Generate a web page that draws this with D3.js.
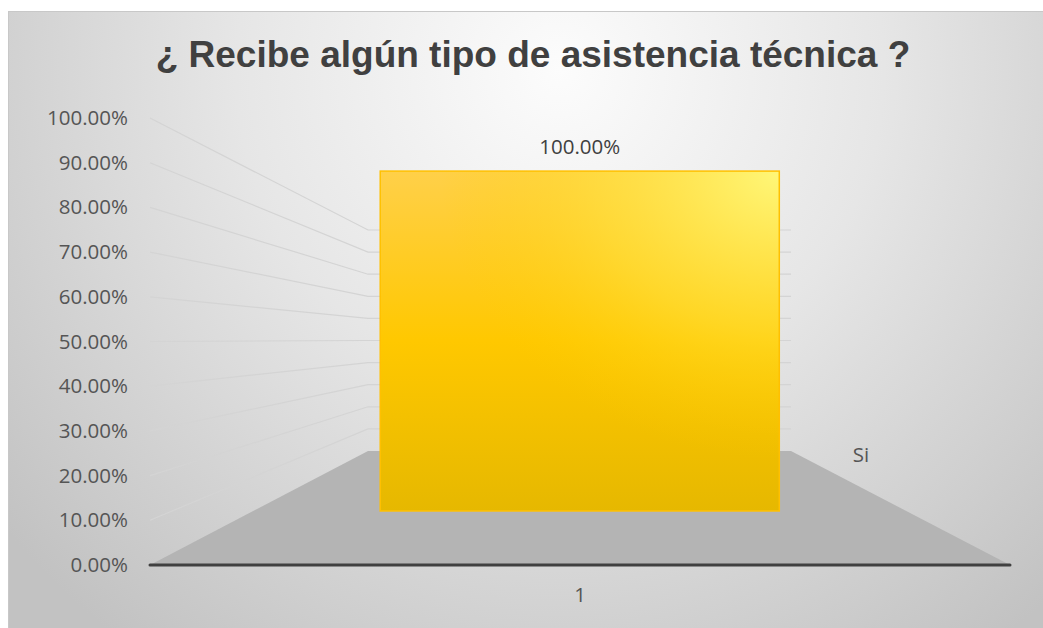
<!DOCTYPE html>
<html>
<head>
<meta charset="utf-8">
<script src="https://cdn.jsdelivr.net/npm/d3@7"></script>
<style>
  html, body { margin: 0; padding: 0; background: #fff; }
  svg { display: block; }
</style>
</head>
<body>
<div id="chart"></div>
<script>
const title = '¿ Recibe algún tipo de asistencia técnica ?';
const categories = ['1'];
const seriesName = 'Si';
const values = [1.0];
const yTicks = [0, 0.1, 0.2, 0.3, 0.4, 0.5, 0.6, 0.7, 0.8, 0.9, 1.0];

const width = 1043;
const height = 628;
const fmt = d3.format('.2%');
const labelFont = '"Open Sans", sans-serif';

const svg = d3.select('#chart')
  .append('svg')
  .attr('width', width)
  .attr('height', height);

const defs = svg.append('defs');

const bg = defs.append('radialGradient')
  .attr('id', 'bg')
  .attr('gradientUnits', 'userSpaceOnUse')
  .attr('cx', 560).attr('cy', 70).attr('r', 720);
bg.append('stop').attr('offset', 0).attr('stop-color', '#fcfcfc');
bg.append('stop').attr('offset', 0.45).attr('stop-color', '#e6e6e6');
bg.append('stop').attr('offset', 1).attr('stop-color', '#c2c2c2');

const barGrad = defs.append('linearGradient')
  .attr('id', 'barGrad')
  .attr('x1', 0).attr('y1', 0).attr('x2', 0).attr('y2', 1);
barGrad.append('stop').attr('offset', 0).attr('stop-color', '#ffd049');
barGrad.append('stop').attr('offset', 0.5).attr('stop-color', '#ffc800');
barGrad.append('stop').attr('offset', 1).attr('stop-color', '#e6b800');

const barShine = defs.append('radialGradient')
  .attr('id', 'barShine')
  .attr('cx', 1).attr('cy', 0).attr('r', 0.85);
barShine.append('stop').attr('offset', 0).attr('stop-color', '#fff778').attr('stop-opacity', 1);
barShine.append('stop').attr('offset', 0.55).attr('stop-color', '#ffe23a').attr('stop-opacity', 0.55);
barShine.append('stop').attr('offset', 1).attr('stop-color', '#ffd000').attr('stop-opacity', 0);

// chart area
svg.append('rect')
  .attr('x', 8.5).attr('y', 11.5)
  .attr('width', width).attr('height', height)
  .attr('fill', 'url(#bg)')
  .attr('stroke', '#c8c8c8');

// 3D projection: depth 0 = front, 1 = back wall
const leftX = d3.scaleLinear().domain([0, 1]).range([150, 368]);
const rightX = d3.scaleLinear().domain([0, 1]).range([1010, 791]);
const baseY = d3.scaleLinear().domain([0, 1]).range([565, 451]);
const fullH = d3.scaleLinear().domain([0, 1]).range([447, 221]);

const yAt = depth => d3.scaleLinear().domain([0, 1])
  .range([baseY(depth), baseY(depth) - fullH(depth)]);

const yFront = yAt(0);
const yBack = yAt(1);

// floor
svg.append('path')
  .attr('d', d3.line()([
    [leftX(0), baseY(0)], [leftX(1), baseY(1)],
    [rightX(1), baseY(1)], [rightX(0), baseY(0)]
  ]) + 'Z')
  .attr('fill', '#b4b4b4');

// gridlines on side and back wall
svg.append('g')
  .selectAll('path')
  .data(yTicks.filter(t => t > 0))
  .join('path')
  .attr('d', t => d3.line()([
    [leftX(0), yFront(t)], [leftX(1), yBack(t)], [rightX(1), yBack(t)]
  ]))
  .attr('fill', 'none')
  .attr('stroke', '#d4d4d4')
  .attr('stroke-width', 1.2);

// y tick labels
svg.append('g')
  .selectAll('text')
  .data(yTicks)
  .join('text')
  .attr('x', 128)
  .attr('y', t => yFront(t) + 7)
  .attr('text-anchor', 'end')
  .attr('font-family', labelFont)
  .attr('font-size', 20.5)
  .attr('fill', '#555555')
  .text(fmt);

// bars, placed at mid depth
const barDepth = 0.474;
const yBar = yAt(barDepth);
const x = d3.scaleBand()
  .domain(categories)
  .range([leftX(barDepth), rightX(barDepth)])
  .paddingInner(0)
  .paddingOuter(0.318);

const bars = svg.append('g')
  .selectAll('g')
  .data(categories.map((c, i) => ({ c, v: values[i] })))
  .join('g');

bars.append('rect')
  .attr('x', d => x(d.c))
  .attr('y', d => yBar(d.v))
  .attr('width', x.bandwidth())
  .attr('height', d => yBar(0) - yBar(d.v))
  .attr('fill', 'url(#barGrad)');

bars.append('rect')
  .attr('x', d => x(d.c))
  .attr('y', d => yBar(d.v))
  .attr('width', x.bandwidth())
  .attr('height', d => yBar(0) - yBar(d.v))
  .attr('fill', 'url(#barShine)')
  .attr('stroke', '#ffc000')
  .attr('stroke-width', 1.5);

bars.append('text')
  .attr('x', d => x(d.c) + x.bandwidth() / 2)
  .attr('y', d => yBar(d.v) - 17)
  .attr('text-anchor', 'middle')
  .attr('font-family', labelFont)
  .attr('font-size', 20.5)
  .attr('fill', '#404040')
  .text(d => fmt(d.v));

// front axis line
svg.append('line')
  .attr('x1', leftX(0)).attr('x2', rightX(0))
  .attr('y1', baseY(0)).attr('y2', baseY(0))
  .attr('stroke', '#404040')
  .attr('stroke-width', 3)
  .attr('stroke-linecap', 'round');

// category label
const xFront = d3.scaleBand()
  .domain(categories)
  .range([leftX(0), rightX(0)]);

svg.append('g')
  .selectAll('text')
  .data(categories)
  .join('text')
  .attr('x', d => xFront(d) + xFront.bandwidth() / 2)
  .attr('y', baseY(0) + 37)
  .attr('text-anchor', 'middle')
  .attr('font-family', labelFont)
  .attr('font-size', 20.5)
  .attr('fill', '#555555')
  .text(d => d);

// series label on the depth axis
svg.append('text')
  .attr('x', 861)
  .attr('y', 462)
  .attr('text-anchor', 'middle')
  .attr('font-family', labelFont)
  .attr('font-size', 20.5)
  .attr('fill', '#555555')
  .text(seriesName);

// title
svg.append('text')
  .attr('x', 533)
  .attr('y', 67)
  .attr('text-anchor', 'middle')
  .attr('font-family', '"Liberation Sans", Arial, sans-serif')
  .attr('font-weight', 'bold')
  .attr('font-size', 37)
  .attr('fill', '#404040')
  .text(title);
</script>
</body>
</html>
